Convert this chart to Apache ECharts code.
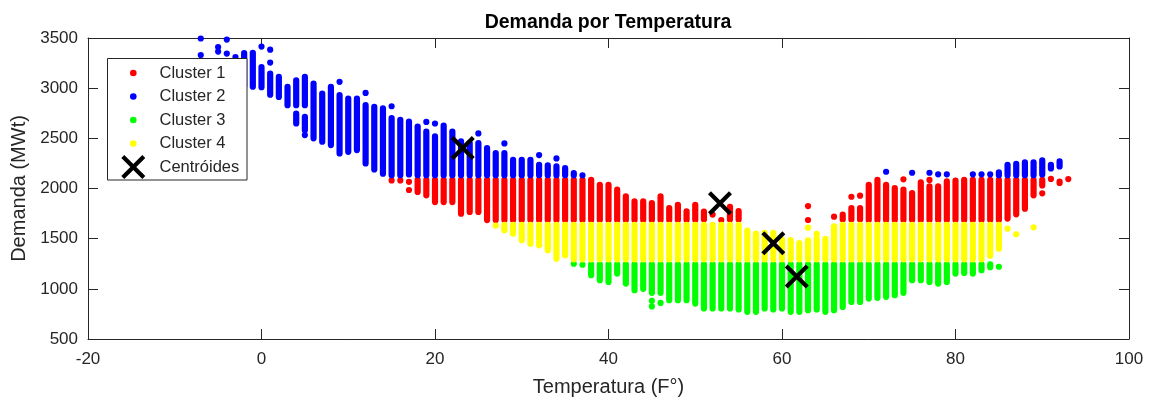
<!DOCTYPE html>
<html><head><meta charset="utf-8">
<script src="https://cdn.jsdelivr.net/npm/echarts@6/dist/echarts.min.js"></script>
<style>html,body{margin:0;padding:0;background:#fff}#c{width:1151px;height:398px}</style>
</head><body><div id="c"></div>
<script>
// Each entry: [temperature (F), lowest demand, highest demand] of a run of overlapping dots (single dot when equal)
const cluster1 = [
  [15,2080,2080],[16,2080,2080],[17,2067,2067],[17,1985,1985],
  [18,1965,2085],[19,1932,2085],[20,1865,2085],[21,1865,2085],[22,1865,2085],
  [23,1749,2085],[24,1766,2085],[25,1766,2085],
  [26,1685,2085],[27,1685,2085],[28,1685,2085],[29,1685,2085],[30,1685,2085],[31,1685,2085],
  [32,1685,2085],[33,1685,2085],[34,1685,2085],[35,1685,2085],[36,1685,2085],[37,1685,2085],[38,1685,2085],
  [39,1685,2037],[40,1685,2037],[41,1685,1988],[42,1685,1922],[43,1685,1872],[44,1685,1872],
  [45,1685,1855],[46,1685,1922],[47,1685,1805],[48,1685,1838],[49,1685,1773],[50,1685,1838],
  [51,1690,1770],[52,1740,1740],[53,1686,1686],[54,1690,1818],[55,1690,1775],
  [63,1825,1825],[63,1686,1686],[66,1719,1719],[67,1690,1739],[68,1690,1805],[68,1918,1918],
  [69,1690,1805],[69,1928,1928],[70,1685,2037],[71,1685,2085],[72,1685,2037],[73,1685,2004],
  [74,1685,1988],[74,2091,2091],[75,1685,1955],[76,1685,2061],[77,1685,2021],[77,2085,2085],
  [78,1685,2021],[79,1685,2071],[80,1685,2078],[81,1685,2085],[82,1685,2085],[83,1685,2085],
  [84,1685,2085],[85,1685,2085],[86,1700,2085],[87,1743,2085],[88,1799,2085],[89,1932,2085],
  [90,2030,2085],[90,1952,1952],[91,2095,2095],[92,2055,2070],[93,2094,2094]
];
const cluster2 = [
  [-7,3495,3495],[-7,3330,3330],[-5,3410,3410],[-5,3365,3365],[-4,3484,3484],[-4,3345,3345],
  [-3,3310,3310],[-2,3020,3350],[-1,3014,3353],
  [0,3415,3415],[0,3010,3210],[1,3384,3384],[1,3255,3255],[1,2935,3145],
  [2,2913,3112],[3,2830,3013],[4,2830,3079],[4,2648,2747],
  [5,2830,3112],[5,2580,2714],[5,2532,2532],[6,2500,3046],[7,2466,2946],[8,2433,3013],
  [9,3063,3063],[9,2350,2930],[10,2366,2897],[11,2383,2897],
  [12,2953,2953],[12,2250,2830],[13,2190,2814],[14,2147,2800],
  [15,2820,2820],[15,2132,2701],[16,2132,2684],[17,2140,2668],[18,2132,2618],
  [19,2664,2664],[19,2132,2568],[20,2648,2648],[20,2132,2519],[21,2132,2628],[22,2132,2568],
  [23,2132,2469],[24,2132,2452],[25,2549,2549],[25,2132,2452],[26,2132,2403],[27,2132,2353],
  [28,2449,2449],[28,2132,2353],[29,2132,2286],[30,2132,2286],[31,2132,2286],
  [32,2333,2333],[32,2132,2236],[33,2132,2230],[34,2300,2300],[34,2132,2220],
  [35,2132,2203],[36,2132,2154],[37,2132,2132],
  [72,2167,2167],[75,2157,2157],[77,2157,2157],[78,2141,2141],[79,2141,2141],
  [82,2141,2141],[83,2141,2141],[84,2141,2141],[85,2132,2161],[86,2132,2236],[87,2132,2246],
  [88,2132,2260],[89,2132,2260],[90,2140,2280],[91,2200,2236],[92,2220,2270]
];
const cluster3 = [
  [36,1250,1250],[37,1240,1240],[38,1136,1245],[39,1086,1245],[40,1069,1245],[41,1152,1245],
  [42,1052,1245],[43,986,1245],[44,1000,1245],[45,960,1245],[45,880,880],[45,825,825],
  [46,960,1245],[46,860,860],[47,887,1245],[48,887,1245],[49,887,1245],[50,853,1245],
  [51,804,1245],[52,804,1245],[53,804,1245],[54,804,1245],[55,794,1245],[56,771,1245],
  [57,771,1245],[58,804,1245],[59,794,1245],[60,804,1245],[61,771,1245],[62,771,1245],
  [63,787,1245],[64,794,1245],[65,771,1245],[66,787,1245],[67,820,1245],[68,870,1245],
  [69,870,1245],[70,903,1245],[71,910,1245],[72,920,1245],[73,937,1245],[74,960,1245],
  [75,1086,1245],[76,1086,1245],[77,1069,1245],[78,1052,1245],[79,1069,1245],[80,1152,1245],
  [81,1158,1245],[82,1152,1245],[83,1185,1245],[84,1215,1245],[85,1220,1220]
];
const cluster4 = [
  [27,1630,1630],[28,1583,1638],[29,1550,1638],[30,1484,1638],[31,1450,1638],[32,1434,1638],
  [33,1384,1638],[34,1301,1638],[35,1335,1638],
  [36,1294,1638],[37,1294,1638],[38,1294,1638],[39,1294,1638],[40,1294,1638],[41,1294,1638],
  [42,1294,1638],[43,1294,1638],[44,1294,1638],[45,1294,1638],[46,1294,1638],[47,1294,1638],
  [48,1294,1638],[49,1294,1638],[50,1294,1638],[51,1294,1638],[52,1294,1638],[53,1294,1638],
  [54,1294,1638],[55,1294,1638],
  [56,1294,1580],[57,1294,1550],[58,1294,1557],[59,1294,1557],[60,1294,1490],[61,1294,1485],
  [62,1294,1457],[63,1294,1483],[63,1610,1610],[64,1294,1500],[64,1547,1547],[65,1294,1497],
  [66,1294,1623],
  [67,1294,1638],[68,1294,1638],[69,1294,1638],[70,1294,1638],[71,1294,1638],[72,1294,1638],
  [73,1294,1638],[74,1294,1638],[75,1294,1638],[76,1294,1638],[77,1294,1638],[78,1294,1638],
  [79,1294,1638],[80,1294,1638],[81,1294,1638],[82,1294,1638],[83,1294,1638],
  [84,1330,1638],[85,1400,1638],[86,1600,1600],[87,1544,1544],[89,1613,1613]
];
const centroids = [[23.2,2403],[52.85,1852],[59.0,1454],[61.7,1122]];
const xTicks = {min:-20, max:100, step:20};
const yTicks = {min:500, max:3500, step:500};
const legendLabels = ['Cluster 1','Cluster 2','Cluster 3','Cluster 4','Centróides'];
const clusterColors = ['#FF0000','#0000FF','#00FF00','#FFFF00'];

const FONT = '"Liberation Sans", Arial, Helvetica, sans-serif';
const AX = '#262626';
const DOT = 6.2;
// X marker outline in a 100x100 box
const XPTS = [[12.4,0],[50,37.6],[87.6,0],[100,12.4],[62.4,50],[100,87.6],[87.6,100],[50,62.4],[12.4,100],[0,87.6],[37.6,50],[0,12.4]];
const XPATH = 'M' + XPTS.map(p => p[0] + ',' + p[1]).join('L') + 'Z';

function columnSeries(name, data, color) {
  return {
    type: 'custom', name, data, encode: {x: 0, y: [1, 2]},
    renderItem(params, api) {
      const a = api.coord([api.value(0), api.value(1)]);
      const b = api.coord([api.value(0), api.value(2)]);
      const top = Math.min(a[1], b[1]), bot = Math.max(a[1], b[1]);
      return {type: 'rect',
        shape: {x: a[0] - DOT / 2, y: top - DOT / 2, width: DOT, height: bot - top + DOT, r: DOT / 2},
        style: {fill: color}};
    }
  };
}
const plain = v => String(v);

const baseX = {type: 'value', min: xTicks.min, max: xTicks.max, interval: xTicks.step,
  axisLine: {show: true, onZero: false, lineStyle: {color: AX, width: 1}},
  axisTick: {show: true, inside: true, length: 10, lineStyle: {color: AX}},
  splitLine: {show: false}};
const baseY = {type: 'value', min: yTicks.min, max: yTicks.max, interval: yTicks.step,
  axisLine: {show: true, onZero: false, lineStyle: {color: AX, width: 1}},
  axisTick: {show: true, inside: true, length: 10, lineStyle: {color: AX}},
  splitLine: {show: false}};

// legend drawn as graphic elements
const rowY = [73, 96.5, 120, 143.5, 167];
const legendGraphics = [{type: 'rect', z: 100,
  shape: {x: 107.5, y: 58.5, width: 139.5, height: 121.5},
  style: {fill: '#fff', stroke: AX, lineWidth: 1}}];
clusterColors.forEach((c, i) => {
  legendGraphics.push({type: 'circle', z: 101, shape: {cx: 133.3, cy: rowY[i], r: 3.3}, style: {fill: c}});
});
legendGraphics.push({type: 'polygon', z: 101,
  shape: {points: XPTS.map(p => [133.3 - 12 + p[0] * 0.24, rowY[4] - 12 + p[1] * 0.24])},
  style: {fill: '#000'}});
legendLabels.forEach((t, i) => {
  legendGraphics.push({type: 'text', z: 101,
    style: {text: t, x: 159.5, y: rowY[i], fill: AX, font: '16.5px ' + FONT, verticalAlign: 'middle', align: 'left'}});
});

const chart = echarts.init(document.getElementById('c'), null, {renderer: 'canvas'});
chart.setOption({
  animation: false,
  backgroundColor: '#fff',
  title: {text: 'Demanda por Temperatura', left: 608, top: 13, padding: 0, textAlign: 'center',
    textStyle: {fontFamily: FONT, fontSize: 19.5, fontWeight: 'bold', color: '#000'}},
  grid: {left: 88, right: 22, top: 38, bottom: 59, containLabel: false, outerBoundsMode: 'none'},
  xAxis: [
    Object.assign({}, baseX, {position: 'bottom',
      axisLabel: {color: AX, fontFamily: FONT, fontSize: 17, margin: 12, formatter: plain},
      name: 'Temperatura (F°)', nameLocation: 'middle', nameGap: 38,
      nameTextStyle: {color: AX, fontFamily: FONT, fontSize: 20}}),
    Object.assign({}, baseX, {position: 'top', axisLabel: {show: false}})
  ],
  yAxis: [
    Object.assign({}, baseY, {position: 'left',
      axisLabel: {color: AX, fontFamily: FONT, fontSize: 17, margin: 10, formatter: plain},
      name: 'Demanda (MWt)', nameLocation: 'middle', nameGap: 56,
      nameTextStyle: {color: AX, fontFamily: FONT, fontSize: 20}}),
    Object.assign({}, baseY, {position: 'right', axisLabel: {show: false}})
  ],
  series: [
    columnSeries('Cluster 1', cluster1, clusterColors[0]),
    columnSeries('Cluster 2', cluster2, clusterColors[1]),
    columnSeries('Cluster 3', cluster3, clusterColors[2]),
    columnSeries('Cluster 4', cluster4, clusterColors[3]),
    {type: 'scatter', name: 'Centróides', data: centroids, symbol: 'path://' + XPATH,
      symbolSize: 24, itemStyle: {color: '#000', opacity: 1}, z: 10}
  ],
  graphic: legendGraphics
});
</script></body></html>
